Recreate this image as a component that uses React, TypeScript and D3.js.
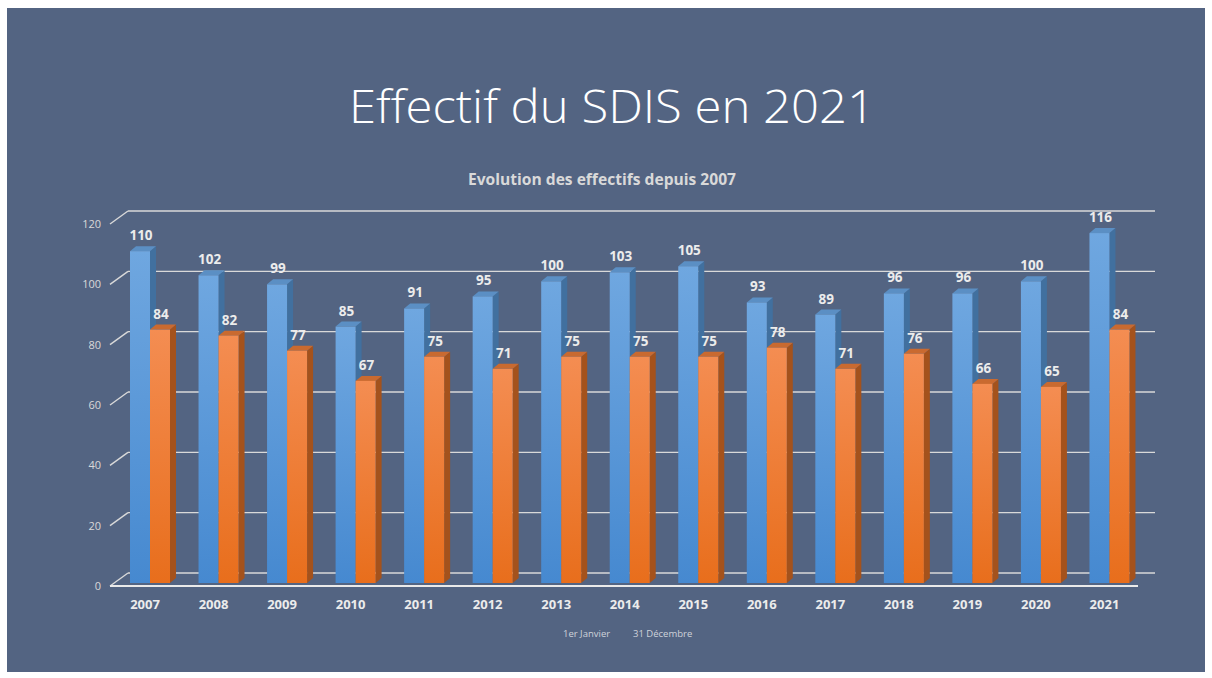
import * as d3 from "d3";
import { useEffect, useRef } from "react";

const years = ["2007","2008","2009","2010","2011","2012","2013","2014","2015","2016","2017","2018","2019","2020","2021"];
const janvier = [110, 102, 99, 85, 91, 95, 100, 103, 105, 93, 89, 96, 96, 100, 116];
const decembre = [84, 82, 77, 67, 75, 71, 75, 75, 75, 78, 71, 76, 66, 65, 84];
const yTicks = [0, 20, 40, 60, 80, 100, 120];
const seriesNames = ["1er Janvier", "31 Décembre"];

const W = 1212;
const H = 678;
const BG = "#536482";
const FONT = "'Open Sans', 'Liberation Sans', sans-serif";

const App = () => {
  const ref = useRef<SVGSVGElement>(null);

  useEffect(() => {
    const svg = d3.select(ref.current);
    svg.selectAll("*").remove();

    svg.append("rect").attr("width", W).attr("height", H).attr("fill", "#fff");
    svg.append("rect").attr("x", 7).attr("y", 8).attr("width", 1198).attr("height", 664).attr("fill", BG);

    const defs = svg.append("defs");
    const grad = (id, c1, c2) => {
      const g = defs.append("linearGradient").attr("id", id).attr("x1", 0).attr("y1", 0).attr("x2", 0).attr("y2", 1);
      g.append("stop").attr("offset", "0%").attr("stop-color", c1);
      g.append("stop").attr("offset", "100%").attr("stop-color", c2);
    };
    grad("gBlue", "#6fa7e0", "#4689d0");
    grad("gOrange", "#f48d52", "#e86e1c");

    // titles
    svg.append("text")
      .attr("x", 612).attr("y", 123)
      .attr("text-anchor", "middle")
      .attr("font-family", FONT).attr("font-weight", 300)
      .attr("font-size", 46).attr("fill", "#fff")
      .attr("textLength", 526).attr("lengthAdjust", "spacingAndGlyphs")
      .text("Effectif du SDIS en 2021");

    svg.append("text")
      .attr("x", 602).attr("y", 185)
      .attr("text-anchor", "middle")
      .attr("font-family", FONT).attr("font-weight", 700)
      .attr("font-size", 16).attr("fill", "#d9d9d9")
      .attr("textLength", 268).attr("lengthAdjust", "spacingAndGlyphs")
      .text("Evolution des effectifs depuis 2007");

    // scales (bar plane)
    const x = d3.scaleBand().domain(years).range([110, 1138]);
    const y = d3.scaleLinear().domain([0, 120]).range([583, 221]);

    // walls: back plane offset, front plane offset
    const backDx = 18, backDy = -10, frontDy = 3;
    const grid = svg.append("g").attr("stroke", "#d9d9d9").attr("stroke-width", 1.4).attr("fill", "none");
    yTicks.forEach(t => {
      const yb = y(t) + backDy;
      grid.append("line").attr("x1", 110 + backDx).attr("x2", 1155).attr("y1", yb).attr("y2", yb);
      grid.append("line").attr("x1", 110).attr("y1", yb + 13).attr("x2", 110 + backDx).attr("y2", yb);
    });
    grid.append("line").attr("x1", 110).attr("x2", 1138).attr("y1", y(0) + frontDy).attr("y2", y(0) + frontDy)
      .attr("stroke", "#eaeaea").attr("stroke-width", 1.8);

    svg.append("g").selectAll("text").data(yTicks).enter().append("text")
      .attr("x", 101).attr("y", d => y(d) + backDy + 13 + 4)
      .attr("text-anchor", "end")
      .attr("font-family", FONT).attr("font-size", 11).attr("fill", "#d9d9d9")
      .text(d => d);

    // bars
    const bw = 20, dx = 6, dy = -5;
    const series = [
      { vals: janvier, off: 20, front: "url(#gBlue)", top: "#5b8fc4", side: "#41709f" },
      { vals: decembre, off: 40, front: "url(#gOrange)", top: "#c96a30", side: "#a4521c" },
    ];
    const bars = svg.append("g");
    years.forEach((yr, i) => {
      series.forEach(s => {
        const v = s.vals[i];
        const x0 = x(yr) + s.off;
        const y0 = y(v);
        const yb = y(0);
        const g = bars.append("g");
        g.append("path").attr("fill", s.side)
          .attr("d", `M${x0 + bw},${y0} L${x0 + bw + dx},${y0 + dy} L${x0 + bw + dx},${yb + dy} L${x0 + bw},${yb} Z`);
        g.append("path").attr("fill", s.top)
          .attr("d", `M${x0},${y0} L${x0 + dx},${y0 + dy} L${x0 + bw + dx},${y0 + dy} L${x0 + bw},${y0} Z`);
        g.append("rect").attr("x", x0).attr("y", y0).attr("width", bw).attr("height", yb - y0).attr("fill", s.front);
        g.append("text")
          .attr("x", x0 + bw / 2 + 1).attr("y", y0 - 11)
          .attr("text-anchor", "middle")
          .attr("font-family", FONT).attr("font-weight", 700)
          .attr("font-size", 13.5).attr("fill", "#ececec")
          .text(v);
      });
    });

    // x labels
    svg.append("g").selectAll("text").data(years).enter().append("text")
      .attr("x", d => x(d) + 35).attr("y", 609)
      .attr("text-anchor", "middle")
      .attr("font-family", FONT).attr("font-weight", 700)
      .attr("font-size", 13).attr("fill", "#ececec")
      .text(d => d);

    // legend (text only)
    const legX = [563, 633];
    svg.append("g").selectAll("text").data(seriesNames).enter().append("text")
      .attr("x", (d, i) => legX[i]).attr("y", 637)
      .attr("font-family", FONT).attr("font-size", 9.5).attr("fill", "#cfd3da")
      .text(d => d);
  }, []);

  return (
    <svg ref={ref} width={W} height={H} style={{ position: "absolute", left: 0, top: 0 }}></svg>
  );
};

export default App;
